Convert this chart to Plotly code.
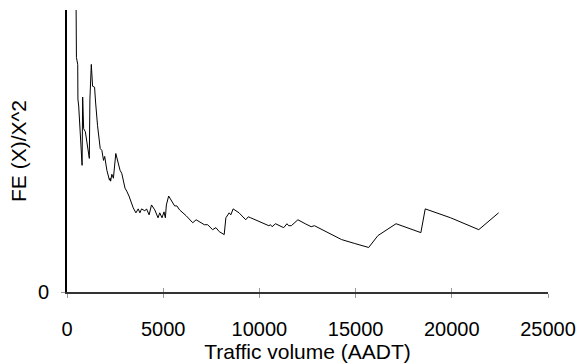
import plotly.graph_objects as go

aadt = [474, 490, 557, 567, 608, 732, 784, 814, 866, 954, 1041, 1160, 1191, 1263, 1330,
        1433, 1485, 1588, 1727, 1814, 1897, 1959, 2072, 2139, 2206, 2242, 2268, 2330, 2381,
        2412, 2536, 2670, 2758, 2845, 3015, 3103, 3222, 3443, 3582, 3701, 3789, 3876, 4046,
        4134, 4268, 4392, 4562, 4732, 4820, 4938, 5041, 5113, 5165, 5284, 5423, 5593, 5711,
        5851, 6196, 6536, 6711, 6969, 7139, 7309, 7567, 7742, 7912, 8170, 8258, 8428, 8515,
        8634, 8773, 8943, 9289, 9423, 9546, 9804, 10144, 10490, 10577, 10660, 10835, 11093,
        11263, 11433, 11521, 11660, 12000, 12381, 12691, 12861, 13582, 14268, 14959, 15680,
        16160, 17103, 18392, 18619, 19938, 21402, 22433]
fe_ratio = [285, 237, 230, 195, 188, 145, 128, 197, 165, 162, 152, 135, 195, 230, 208,
            207, 192, 168, 145, 143, 133, 137, 123, 119, 113, 115, 112, 119, 117,
            115, 140, 128, 123, 120, 105, 102, 97, 85, 80, 84, 80, 84, 82,
            84, 78, 88, 83, 75, 80, 75, 81, 75, 88, 97, 92, 87, 87,
            83, 77, 70, 73, 70, 68, 68, 63, 65, 61, 58, 75, 80, 78,
            84, 82, 80, 73, 76, 75, 73, 70, 67, 68, 66, 69, 67,
            65, 69, 67, 67, 73, 69, 66, 67, 60, 53, 49, 45,
            57, 69, 60, 84, 75, 63, 80]

x_ticks = [0, 5000, 10000, 15000, 20000, 25000]
x_range = [0, 25000]
y_range = [0, 285]

fam = "Liberation Sans, Arial, sans-serif"
tick_font = dict(family=fam, size=20, color="#000000")
title_font = dict(family=fam, size=21, color="#000000")

fig = go.Figure()
fig.add_trace(go.Scatter(x=aadt, y=fe_ratio, mode="lines",
                         line=dict(color="black", width=1), showlegend=False))
# invisible trace on the overlay axes so the inner tick marks show
fig.add_trace(go.Scatter(x=[None], y=[None], xaxis="x2", yaxis="y2", showlegend=False))

fig.update_layout(
    width=586, height=364,
    margin=dict(l=67, r=34, t=10, b=70),
    paper_bgcolor="white", plot_bgcolor="white",
    font=tick_font,
    xaxis=dict(range=x_range, tickvals=x_ticks, ticktext=[str(v) for v in x_ticks],
               showgrid=False, zeroline=False, showline=True, linecolor="#333333", linewidth=1.5,
               ticks="outside", ticklen=4, tickcolor="#999999", tickwidth=1,
               tickfont=tick_font, ticklabelstandoff=14,
               title=dict(text="Traffic volume (AADT)", font=title_font, standoff=0)),
    yaxis=dict(range=y_range, tickvals=[0], ticktext=["0"],
               showgrid=False, zeroline=False, showline=True, linecolor="black", linewidth=2,
               ticks="outside", ticklen=4, tickcolor="#999999", tickwidth=1,
               tickfont=tick_font, ticklabelstandoff=8,
               title=dict(text="FE (X)/X^2", font=title_font, standoff=6)),
    xaxis2=dict(range=x_range, tickvals=x_ticks, showticklabels=False, overlaying="x",
                anchor="y", side="bottom", showgrid=False, zeroline=False,
                ticks="inside", ticklen=4, tickcolor="#999999", tickwidth=1),
    yaxis2=dict(range=y_range, tickvals=[0], showticklabels=False, overlaying="y",
                anchor="x", side="left", showgrid=False, zeroline=False,
                ticks="inside", ticklen=4, tickcolor="#999999", tickwidth=1),
)

fig.write_html("out.html")
